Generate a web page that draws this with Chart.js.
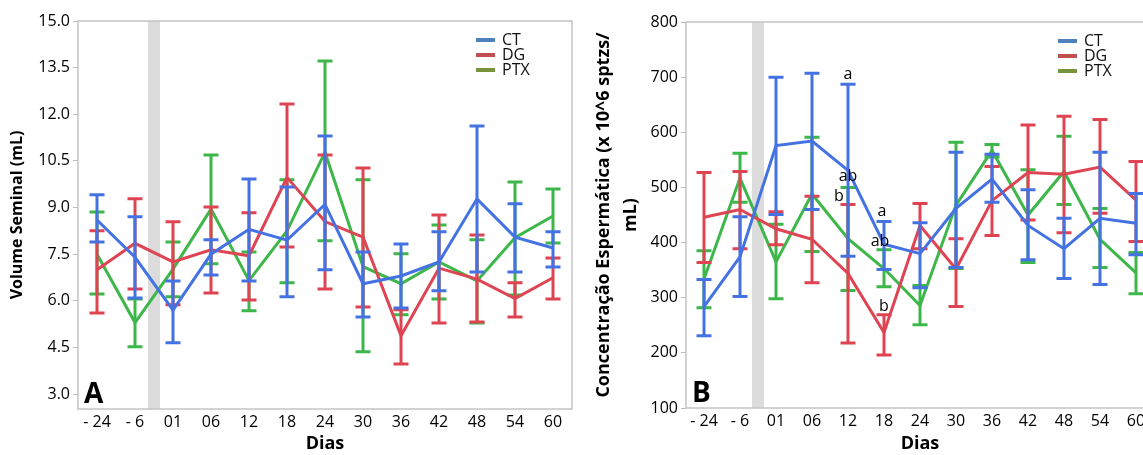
<!DOCTYPE html>
<html>
<head>
<meta charset="utf-8">
<script src="https://cdn.jsdelivr.net/npm/chart.js@4.4.0/dist/chart.umd.min.js"></script>
<style>
  body { margin: 0; width: 1143px; height: 455px; overflow: hidden; background: #fff; position: relative; }
  canvas { position: absolute; top: 0; }
  #chartA { left: 0; }
  #chartB { left: 590px; }
</style>
</head>
<body>
<canvas id="chartA" width="580" height="455"></canvas>
<canvas id="chartB" width="580" height="455"></canvas>
<script>
// dias de coleta
const dias = ["- 24", "- 6", "01", "06", "12", "18", "24", "30", "36", "42", "48", "54", "60"];
const grupos = ["CT", "DG", "PTX"];

// A - Volume seminal (mL): media, limite inferior e superior
const volCT = [8.6, 7.4, 5.7, 7.5, 8.3, 7.95, 9.1, 6.55, 6.8, 7.25, 9.28, 8.05, 7.7];
const volCTbaixo = [7.89, 6.09, 4.65, 6.83, 6.64, 6.13, 7.0, 5.48, 5.77, 6.32, 6.93, 6.93, 7.09];
const volCTalto = [9.41, 8.7, 6.64, 7.96, 9.92, 9.66, 11.3, 7.57, 7.83, 8.22, 11.62, 9.12, 8.22];
const volDG = [7.0, 7.85, 7.25, 7.64, 7.45, 9.97, 8.55, 8.05, 4.88, 7.05, 6.7, 6.07, 6.74];
const volDGbaixo = [5.61, 6.38, 5.87, 6.25, 6.03, 7.73, 6.38, 5.8, 3.97, 5.29, 5.32, 5.48, 6.06];
const volDGalto = [8.25, 9.28, 8.54, 9.02, 8.83, 12.33, 10.69, 10.27, 5.71, 8.76, 8.12, 6.58, 7.38];
const volPTX = [7.5, 5.3, 7.02, 8.95, 6.65, 8.25, 10.78, 7.1, 6.55, 7.25, 6.64, 8.03, 8.73];
const volPTXbaixo = [6.22, 4.52, 6.13, 7.19, 5.68, 6.58, 7.93, 4.36, 5.55, 6.06, 5.29, 6.19, 7.86];
const volPTXalto = [8.86, 6.06, 7.89, 10.69, 7.57, 9.89, 13.71, 9.89, 7.51, 8.44, 7.96, 9.82, 9.6];
const ticksVol = [3.0, 4.5, 6.0, 7.5, 9.0, 10.5, 12.0, 13.5, 15.0];

// B - Concentracao espermatica (x 10^6 sptzs/mL)
const concCT = [284, 374, 576, 584, 531, 397, 380, 462, 515, 431, 389, 444, 435];
const concCTbaixo = [231, 302, 451, 460, 375, 351, 318, 355, 473, 369, 335, 324, 378];
const concCTalto = [333, 447, 700, 707, 687, 438, 436, 564, 560, 496, 444, 564, 489];
const concDG = [446, 460, 425, 406, 344, 237, 431, 352, 476, 527, 524, 537, 477];
const concDGbaixo = [364, 389, 396, 327, 218, 196, 389, 284, 413, 441, 418, 453, 402];
const concDGalto = [527, 529, 456, 484, 469, 269, 471, 407, 538, 613, 629, 623, 547];
const concPTX = [334, 517, 365, 488, 407, 353, 286, 468, 567, 450, 529, 406, 345];
const concPTXbaixo = [282, 473, 298, 384, 313, 320, 251, 353, 555, 364, 469, 355, 307];
const concPTXalto = [385, 562, 433, 591, 500, 387, 322, 582, 578, 532, 593, 462, 382];
const ticksConc = [100, 200, 300, 400, 500, 600, 700, 800];

// letras de significancia (painel B)
const letrasDia = ["12", "12", "12", "18", "18", "18"];
const letrasValor = [704, 520, 484, 456, 402, 284];
const letrasTexto = ["a", "ab", "b", "a", "ab", "b"];

const coresLinha = ["#4472e2", "#df4452", "#3db64a"];
const coresLegenda = ["#4f81bd", "#c0504d", "#77933c"];
const letrasDx = [0, 0, -9, -2, -4, 0];

Chart.defaults.font.family = "'Open Sans', sans-serif";
Chart.defaults.color = "#000";

// faixa cinza entre -6 e 01 + moldura
const faixaCinza = {
  id: "faixaCinza",
  beforeDatasetsDraw(chart) {
    const { ctx, chartArea, scales: { x } } = chart;
    const meio = (x.getPixelForValue(1) + x.getPixelForValue(2)) / 2;
    ctx.save();
    ctx.fillStyle = "#dcdcdc";
    ctx.fillRect(meio - 6, chartArea.top, 12, chartArea.bottom - chartArea.top);
    ctx.strokeStyle = "#c4c4c4";
    ctx.lineWidth = 1.5;
    ctx.strokeRect(chartArea.left, chartArea.top, chartArea.right - chartArea.left, chartArea.bottom - chartArea.top);
    ctx.restore();
  }
};

// barras de erro de cada grupo
const barrasErro = {
  id: "barrasErro",
  afterDatasetDraw(chart, args) {
    const ds = chart.data.datasets[args.index];
    const { ctx, scales: { x, y } } = chart;
    ctx.save();
    ctx.strokeStyle = ds.borderColor;
    ctx.lineWidth = 3;
    ds.baixo.forEach((b, i) => {
      const px = x.getPixelForValue(i);
      const y1 = y.getPixelForValue(b);
      const y2 = y.getPixelForValue(ds.alto[i]);
      ctx.beginPath();
      ctx.moveTo(px, y1); ctx.lineTo(px, y2);
      ctx.moveTo(px - 7.5, y1); ctx.lineTo(px + 7.5, y1);
      ctx.moveTo(px - 7.5, y2); ctx.lineTo(px + 7.5, y2);
      ctx.stroke();
    });
    ctx.restore();
  }
};

// legenda, letra do painel e letras de significancia
const extras = {
  id: "extras",
  afterDraw(chart, args, opts) {
    const { ctx, chartArea, scales: { x, y } } = chart;
    ctx.save();
    // legenda
    ctx.font = "16px 'Open Sans', sans-serif";
    ctx.textBaseline = "middle";
    ctx.textAlign = "left";
    grupos.forEach((g, i) => {
      const yy = chartArea.top + 19 + i * 15;
      ctx.strokeStyle = coresLegenda[i];
      ctx.lineWidth = 4;
      ctx.beginPath();
      ctx.moveTo(chartArea.right - 96, yy);
      ctx.lineTo(chartArea.right - 77, yy);
      ctx.stroke();
      ctx.fillStyle = "#111";
      ctx.fillText(g, chartArea.right - 70, yy);
    });
    // A / B
    ctx.font = "bold 28px 'Open Sans', sans-serif";
    ctx.textBaseline = "alphabetic";
    ctx.fillStyle = "#000";
    ctx.fillText(opts.painel, chartArea.left + 6, chartArea.bottom - 6);
    // letras
    if (opts.letras) {
      ctx.font = "16px 'Open Sans', sans-serif";
      ctx.textAlign = "center";
      ctx.textBaseline = "middle";
      letrasTexto.forEach((t, i) => {
        const px = x.getPixelForValue(dias.indexOf(letrasDia[i])) + letrasDx[i];
        ctx.fillText(t, px, y.getPixelForValue(letrasValor[i]));
      });
    }
    ctx.restore();
  }
};

function montaGrafico(id, medias, baixos, altos, yMin, yMax, yTicks, casas, titulo, tituloFonte, tituloPad, yLargura, xAltura, padTop, padRight, painel, letras) {
  const datasets = grupos.map((g, i) => ({
    label: g,
    data: medias[i],
    baixo: baixos[i],
    alto: altos[i],
    borderColor: coresLinha[i],
    backgroundColor: coresLinha[i],
    borderWidth: 3,
    pointRadius: 0,
    tension: 0,
    fill: false
  }));
  return new Chart(document.getElementById(id), {
    type: "line",
    data: { labels: dias, datasets: datasets },
    plugins: [faixaCinza, barrasErro, extras],
    options: {
      responsive: false,
      animation: false,
      layout: { padding: { top: padTop, right: padRight, left: 0, bottom: 0 } },
      plugins: {
        legend: { display: false },
        tooltip: { enabled: false },
        extras: { painel: painel, letras: letras }
      },
      scales: {
        x: {
          offset: true,
          grid: { display: false, drawTicks: false },
          border: { display: false },
          ticks: { font: { size: 16 }, padding: 4, maxRotation: 0, autoSkip: false, color: "#000" },
          title: { display: true, text: "Dias", font: { size: 18, weight: "bold" }, padding: { top: 0, bottom: 0 }, color: "#000" },
          afterFit: (s) => { s.height = xAltura; }
        },
        y: {
          min: yMin,
          max: yMax,
          grid: { drawOnChartArea: false, tickLength: 5, color: "#bbbbbb" },
          border: { display: false },
          afterBuildTicks: (s) => { s.ticks = yTicks.map(v => ({ value: v })); },
          ticks: { font: { size: 16 }, padding: 3, color: "#000", callback: (v) => Number(v).toFixed(casas) },
          title: { display: true, text: titulo, font: tituloFonte, padding: { top: tituloPad, bottom: 0 }, color: "#000" },
          afterFit: (s) => { s.width = yLargura; }
        }
      }
    }
  });
}

montaGrafico("chartA",
  [volCT, volDG, volPTX], [volCTbaixo, volDGbaixo, volPTXbaixo], [volCTalto, volDGalto, volPTXalto],
  2.52, 15, ticksVol, 1, "Volume Seminal (mL)", { size: 16, weight: "bold" }, 8,
  78, 46, 21, 8, "A", false);

montaGrafico("chartB",
  [concCT, concDG, concPTX], [concCTbaixo, concDGbaixo, concPTXbaixo], [concCTalto, concDGalto, concPTXalto],
  100, 800, ticksConc, 0, ["Concentração Espermática (x 10^6 sptzs/", "mL)"], { size: 18, weight: "bold", lineHeight: 1.5 }, 0,
  96, 47, 22, 16, "B", true);
</script>
</body>
</html>
